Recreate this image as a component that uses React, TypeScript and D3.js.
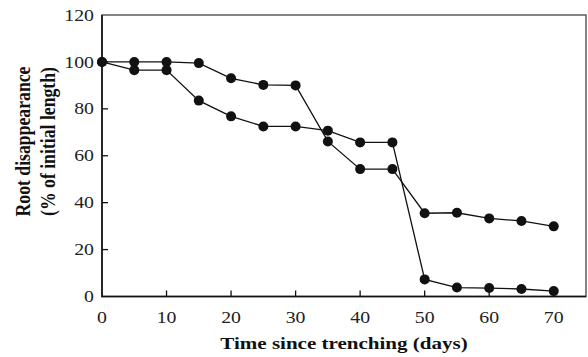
import React, { useEffect, useRef } from "react";
import * as d3 from "d3";

// days since trenching
const days = [0, 5, 10, 15, 20, 25, 30, 35, 40, 45, 50, 55, 60, 65, 70];
// root remaining (% of initial length), two treatments
const seriesA = [100, 100, 100, 99.5, 93, 90.2, 90, 66.1, 54.3, 54.3, 35.5, 35.7, 33.3, 32.2, 29.9];
const seriesB = [100, 96.5, 96.5, 83.5, 76.8, 72.5, 72.5, 70.7, 65.7, 65.7, 7.3, 3.8, 3.6, 3.2, 2.3];
const xTicks = [0, 10, 20, 30, 40, 50, 60, 70];
const yTicks = [0, 20, 40, 60, 80, 100, 120];

function App() {
  const svgRef = useRef<SVGSVGElement>(null);
  const width = 588;
  const height = 357;

  useEffect(() => {
    const svg = d3.select(svgRef.current);
    svg.selectAll("*").remove();

    const margin = { top: 15, right: 2, bottom: 60.5, left: 102 };
    const sx = 1.2; // the original figure is stretched horizontally
    const font = "'Liberation Serif', 'Times New Roman', serif";

    const x = d3.scaleLinear().domain([0, 75]).range([margin.left, width - margin.right]);
    const y = d3.scaleLinear().domain([0, 120]).range([height - margin.bottom, margin.top]);

    // frame (top/right in grey)
    svg
      .append("rect")
      .attr("x", x(0))
      .attr("y", y(120))
      .attr("width", x(75) - x(0))
      .attr("height", y(0) - y(120))
      .attr("fill", "none")
      .attr("stroke", "#666")
      .attr("stroke-width", 1.6);

    // left & bottom axes
    svg
      .append("path")
      .attr("d", `M${x(0)},${y(120)}V${y(0)}H${x(75)}`)
      .attr("fill", "none")
      .attr("stroke", "#111")
      .attr("stroke-width", 1.6);

    // inward ticks
    svg
      .selectAll("line.xt")
      .data(xTicks.slice(1))
      .join("line")
      .attr("x1", (d) => x(d))
      .attr("x2", (d) => x(d))
      .attr("y1", y(0))
      .attr("y2", y(0) - 6)
      .attr("stroke", "#111")
      .attr("stroke-width", 1.3);

    svg
      .selectAll("line.yt")
      .data(yTicks.slice(1, -1))
      .join("line")
      .attr("x1", x(0))
      .attr("x2", x(0) + 6)
      .attr("y1", (d) => y(d))
      .attr("y2", (d) => y(d))
      .attr("stroke", "#111")
      .attr("stroke-width", 1.3);

    // tick labels
    svg
      .selectAll("text.xl")
      .data(xTicks)
      .join("text")
      .attr("transform", (d) => `translate(${x(d)},322.5) scale(${sx},1)`)
      .attr("text-anchor", "middle")
      .style("font-family", font)
      .style("font-size", "16.5px")
      .attr("fill", "#222")
      .text((d) => d);

    svg
      .selectAll("text.yl")
      .data(yTicks)
      .join("text")
      .attr("transform", (d) => `translate(94,${y(d) + 5.6}) scale(${sx},1)`)
      .attr("text-anchor", "end")
      .style("font-family", font)
      .style("font-size", "16.5px")
      .attr("fill", "#222")
      .text((d) => d);

    // axis titles
    svg
      .append("text")
      .attr("transform", `translate(${(x(0) + x(75)) / 2},349) scale(${sx * 0.99},1)`)
      .attr("text-anchor", "middle")
      .style("font-family", font)
      .style("font-size", "17.7px")
      .style("font-weight", "bold")
      .attr("fill", "#111")
      .text("Time since trenching (days)");

    const yTitle = ["Root disappearance", "(% of initial length)"];
    svg
      .selectAll("text.yt")
      .data(yTitle)
      .join("text")
      .attr("transform", (d, i) => `translate(${29.5 + i * 25},141.5) scale(${sx},1) rotate(-90)`)
      .attr("text-anchor", "middle")
      .style("font-family", font)
      .style("font-size", "17.7px")
      .style("font-weight", "bold")
      .attr("fill", "#111")
      .text((d) => d);

    // lines and markers
    const line = d3
      .line<number>()
      .x((d, i) => x(days[i]))
      .y((d) => y(d));

    [seriesA, seriesB].forEach((s) => {
      svg
        .append("path")
        .datum(s)
        .attr("d", line)
        .attr("fill", "none")
        .attr("stroke", "#111")
        .attr("stroke-width", 1.3);
    });

    [seriesA, seriesB].forEach((s) => {
      svg
        .append("g")
        .selectAll("circle")
        .data(s)
        .join("circle")
        .attr("cx", (d, i) => x(days[i]))
        .attr("cy", (d) => y(d))
        .attr("r", 5)
        .attr("fill", "#111");
    });
  }, []);

  return (
    <svg
      ref={svgRef}
      width={width}
      height={height}
      style={{ position: "absolute", left: 0, top: 0, background: "#fff" }}
    ></svg>
  );
}

export default App;
